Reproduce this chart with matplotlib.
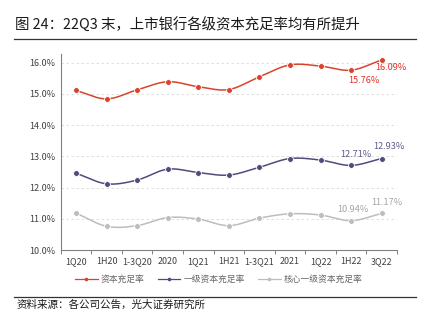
import numpy as np
import matplotlib
matplotlib.use("Agg")
import matplotlib.pyplot as plt
from matplotlib.lines import Line2D

plt.rcParams['font.family'] = ['Noto Sans CJK SC', 'DejaVu Sans']

# ---------------------------------------------------------------- data
quarters = ["1Q20", "1H20", "1-3Q20", "2020", "1Q21", "1H21", "1-3Q21", "2021", "1Q22", "1H22", "3Q22"]
car = [15.11, 14.84, 15.13, 15.39, 15.23, 15.14, 15.55, 15.93, 15.89, 15.76, 16.09]
tier1 = [12.46, 12.12, 12.24, 12.59, 12.48, 12.40, 12.65, 12.93, 12.88, 12.71, 12.93]
cet1 = [11.18, 10.76, 10.78, 11.04, 10.99, 10.78, 11.02, 11.16, 11.12, 10.94, 11.17]
names = ["资本充足率", "一级资本充足率", "核心一级资本充足率"]
yticks = [10, 11, 12, 13, 14, 15, 16]

colors = ["#D9432B", "#4E4C7E", "#BDBDBD"]
label_colors = ["#E0312A", "#5E5D8C", "#A6A6A6"]


def smooth(x, y, n=20):
    # catmull-rom curve through the points, only for drawing the line
    x = np.asarray(x, float)
    y = np.asarray(y, float)
    px = np.concatenate([[2 * x[0] - x[1]], x, [2 * x[-1] - x[-2]]])
    py = np.concatenate([[2 * y[0] - y[1]], y, [2 * y[-1] - y[-2]]])
    t = np.linspace(0, 1, n)
    xs, ys = [], []
    for i in range(1, len(px) - 2):
        for arr, out in ((px, xs), (py, ys)):
            p0, p1, p2, p3 = arr[i - 1], arr[i], arr[i + 1], arr[i + 2]
            out.append(0.5 * ((2 * p1) + (-p0 + p2) * t + (2 * p0 - 5 * p1 + 4 * p2 - p3) * t ** 2
                              + (-p0 + 3 * p1 - 3 * p2 + p3) * t ** 3))
    return np.concatenate(xs), np.concatenate(ys)


fig = plt.figure(figsize=(4.28, 3.23), dpi=100)
ax = fig.add_axes([0.1418, 0.226, 0.7858, 0.607])

x = np.arange(len(quarters))
for vals, c in zip([car, tier1, cet1], colors):
    sx, sy = smooth(x, vals)
    ax.plot(sx, sy, color=c, lw=1.1, zorder=3)
    ax.plot(x, vals, "o", color=c, ms=4.2, mec="white", mew=0.6, zorder=4)

# labels on the last two points
offsets = {
    0: [(9.4, -7.7), (6.7, -5.8)],
    1: [(3.6, 8.2), (5.3, 8.4)],
    2: [(1.0, 8.1), (3.8, 8.2)],
}
for k, vals in enumerate([car, tier1, cet1]):
    for j, idx in enumerate([9, 10]):
        ax.annotate("{:.2f}%".format(vals[idx]), (x[idx], vals[idx]), xytext=offsets[k][j],
                    textcoords="offset points", ha="center", va="center",
                    fontsize=6.6, color=label_colors[k])

ax.set_xlim(-0.5, len(quarters) - 0.5)
ax.set_ylim(10, 16.28)
ax.set_yticks(yticks)
ax.set_yticklabels(["{:.1f}%".format(v) for v in yticks], fontsize=6.5, color="#404040")
for v in yticks[1:]:
    ax.axhline(v, color="#D9D9D9", lw=0.6, ls=(0, (3, 3)), zorder=1)

ax.set_xticks(x)
ax.set_xticklabels(quarters, fontsize=6.4, color="#404040")
ax.set_xticks(np.arange(-0.5, len(quarters), 1), minor=True)
ax.tick_params(axis="x", which="major", length=0, pad=5)
ax.tick_params(axis="x", which="minor", length=3, color="#808080", width=0.7)
ax.tick_params(axis="y", length=0, pad=4)

for s in ["top", "right"]:
    ax.spines[s].set_visible(False)
ax.spines["left"].set_color("#808080")
ax.spines["bottom"].set_color("#808080")
ax.spines["left"].set_linewidth(0.8)
ax.spines["bottom"].set_linewidth(0.8)

handles = [Line2D([], [], color=c, lw=0.9, ls="-", marker="o", ms=1.6) for c in colors]
fig.legend(handles, names, loc="center", bbox_to_anchor=(0.511, 1 - 279.5 / 323), ncol=3,
           frameon=False, fontsize=6.3, handlelength=2.6, handletextpad=0.35, columnspacing=1.5,
           labelcolor="#666666")

# title, rules and source
fig.text(15 / 428, 1 - 25 / 323, "图 24：22Q3 末，上市银行各级资本充足率均有所提升",
         fontsize=10.4, color="#1A1A1A", va="center", ha="left")
fig.add_artist(Line2D([14 / 428, 416 / 428], [1 - 38.5 / 323] * 2, color="#333333", lw=0.9))
fig.add_artist(Line2D([14 / 428, 416 / 428], [1 - 297 / 323] * 2, color="#333333", lw=0.9))
fig.text(17 / 428, 1 - 305 / 323, "资料来源：各公司公告，光大证券研究所",
         fontsize=7.6, color="#1A1A1A", va="center", ha="left")

fig.savefig("out.png", dpi=100)
